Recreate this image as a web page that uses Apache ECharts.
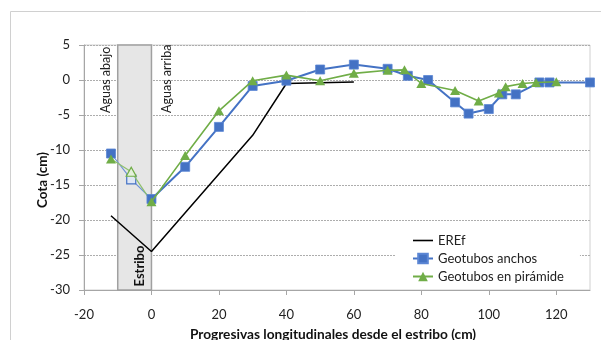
<!DOCTYPE html>
<html>
<head>
<meta charset="utf-8">
<script src="https://cdn.jsdelivr.net/npm/echarts@6/dist/echarts.min.js"></script>
<style>
  html, body { margin: 0; padding: 0; background: #fff; }
  #chart { width: 601px; height: 340px; }
</style>
</head>
<body>
<div id="chart"></div>
<script>
// Perfil longitudinal junto al estribo: cota (cm) frente a progresiva (cm)
const xTicks = [-20, 0, 20, 40, 60, 80, 100, 120];
const yTicks = [-30, -25, -20, -15, -10, -5, 0, 5];

// Perfil de referencia
const xERef = [-12, 0, 30, 40, 60];
const yERef = [-19.4, -24.5, -7.9, -0.5, -0.3];

// Geotubos anchos
const xAnchos = [-12, -6, 0, 10, 20, 30, 40, 50, 60, 70, 76, 82, 90, 94, 100, 104, 108, 115, 118, 130];
const yAnchos = [-10.5, -14.2, -17, -12.4, -6.7, -0.85, -0.1, 1.5, 2.2, 1.6, 0.6, 0, -3.2, -4.8, -4.15, -2.05, -2.05, -0.35, -0.35, -0.35];

// Geotubos en pirámide
const xPiramide = [-12, -6, 0, 10, 20, 30, 40, 50, 60, 70, 75, 80, 90, 97, 103, 105, 110, 114, 120];
const yPiramide = [-11.3, -13.1, -17.4, -10.8, -4.4, -0.1, 0.7, -0.1, 0.95, 1.4, 1.45, -0.5, -1.5, -3.0, -1.85, -0.95, -0.5, -0.35, -0.25];

// Zona del estribo (progresivas)
const estriboDesde = -10;
const estriboHasta = 0;

const FONT = 'Lato, "Open Sans", sans-serif';
const BLUE = '#4472C4';
const GREEN = '#70AD47';

const zip = (xs, ys) => xs.map((x, i) => [x, ys[i]]);

// Tramo aguas abajo (hasta el estribo) con trazo fino; el punto intermedio va hueco
function upstreamSplit(xs, ys) {
  const k = xs.indexOf(0);
  return { head: zip(xs.slice(0, k + 1), ys.slice(0, k + 1)), tail: zip(xs.slice(k), ys.slice(k)) };
}
const anchos = upstreamSplit(xAnchos, yAnchos);
const piramide = upstreamSplit(xPiramide, yPiramide);

function headData(points, hollowFill, color) {
  return points.map((p, i) => {
    if (i === points.length - 1) return { value: p, symbol: 'none' };
    if (i > 0) return { value: p, itemStyle: { color: hollowFill, borderColor: color, borderWidth: 1.2 } };
    return { value: p };
  });
}

const chart = echarts.init(document.getElementById('chart'), null, { renderer: 'canvas' });

const option = {
  animation: false,
  backgroundColor: '#fff',
  grid: { left: 84, right: 11, top: 45, bottom: 50, show: true, borderColor: '#d0d0d0', borderWidth: 1 },
  xAxis: {
    type: 'value', min: -20, max: 130, interval: 20,
    axisLine: { show: true, onZero: false, lineStyle: { color: '#a6a6a6', width: 1 } },
    axisTick: { show: true, length: 5, customValues: xTicks, lineStyle: { color: '#a6a6a6' } },
    axisLabel: { customValues: xTicks, margin: 18, fontFamily: FONT, fontSize: 13, color: '#222' },
    splitLine: { show: false }
  },
  yAxis: {
    type: 'value', min: -30, max: 5, interval: 5,
    axisLine: { show: true, onZero: false, lineStyle: { color: '#a6a6a6', width: 1 } },
    axisTick: { show: true, length: 5, customValues: yTicks, lineStyle: { color: '#a6a6a6' } },
    axisLabel: { customValues: yTicks, margin: 14, fontFamily: FONT, fontSize: 13, color: '#222' },
    splitLine: { show: true, lineStyle: { color: '#adadad', width: 1, type: [2, 1] } }
  },
  legend: {
    data: [
      { name: 'EREf', icon: 'path://M0,0H20V1.6H0Z', itemStyle: { color: '#000' } },
      'Geotubos anchos',
      'Geotubos en pirámide'
    ],
    orient: 'vertical', left: 395, top: 229,
    backgroundColor: '#fff',
    padding: [5, 16, 6, 17],
    itemWidth: 20, itemHeight: 12, itemGap: 5,
    textStyle: { fontFamily: FONT, fontSize: 13, color: '#222' }
  },
  series: [
    {
      name: 'EREf', type: 'line', data: zip(xERef, yERef),
      symbol: 'none', color: '#000',
      lineStyle: { color: '#000', width: 1.5 },
      z: 3,
      markArea: {
        silent: true,
        itemStyle: { color: '#e6e6e6', borderColor: '#a0a0a0', borderWidth: 1.5 },
        data: [[{ xAxis: estriboDesde, yAxis: -30 }, { xAxis: estriboHasta, yAxis: 5 }]]
      }
    },
    {
      type: 'line', data: headData(anchos.head, '#dfe7f6', BLUE),
      symbol: 'rect', symbolSize: 9, color: BLUE,
      itemStyle: { color: BLUE, borderColor: '#5b86d4', borderWidth: 0.8 },
      lineStyle: { color: '#6f93d6', width: 1.2 }, z: 4
    },
    {
      type: 'line', data: headData(piramide.head, '#e4f0db', GREEN),
      symbol: 'triangle', symbolSize: [10, 9], color: GREEN,
      itemStyle: { color: GREEN },
      lineStyle: { color: '#8fc06c', width: 1.2 }, z: 5
    },
    {
      name: 'Geotubos anchos', type: 'line', data: anchos.tail,
      symbol: 'rect', symbolSize: 9, color: BLUE,
      itemStyle: { color: BLUE, borderColor: '#5b86d4', borderWidth: 0.8 },
      lineStyle: { color: BLUE, width: 2 }, z: 6
    },
    {
      name: 'Geotubos en pirámide', type: 'line', data: piramide.tail,
      symbol: 'triangle', symbolSize: [10, 9], color: GREEN,
      itemStyle: { color: GREEN },
      lineStyle: { color: GREEN, width: 1.6 }, z: 7
    }
  ]
};
chart.setOption(option);

// Rótulos de la zona del estribo y títulos de ejes
const bottomY = chart.convertToPixel({ xAxisIndex: 0, yAxisIndex: 0 }, [0, -30])[1];
const pAbajo = chart.convertToPixel({ xAxisIndex: 0, yAxisIndex: 0 }, [-13.5, -4.7]);
const pArriba = chart.convertToPixel({ xAxisIndex: 0, yAxisIndex: 0 }, [4.5, -4.7]);
const pEstribo = chart.convertToPixel({ xAxisIndex: 0, yAxisIndex: 0 }, [-3.4, -29.5]);

chart.setOption({
  graphic: [
    { type: 'rect', silent: true, z: -10, shape: { x: 10.5, y: 11.5, width: 700, height: 400 },
      style: { fill: null, stroke: '#d0d0d0', lineWidth: 1 } },
    { type: 'text', x: pAbajo[0], y: pAbajo[1], rotation: Math.PI / 2, z: 20,
      style: { text: 'Aguas abajo', fontFamily: FONT, fontSize: 12.5, fill: '#222', align: 'left', verticalAlign: 'middle' } },
    { type: 'text', x: pArriba[0], y: pArriba[1], rotation: Math.PI / 2, z: 20,
      style: { text: 'Aguas arriba', fontFamily: FONT, fontSize: 12.5, fill: '#222', align: 'left', verticalAlign: 'middle' } },
    { type: 'text', x: pEstribo[0], y: pEstribo[1], rotation: Math.PI / 2, z: 20,
      style: { text: 'Estribo', fontFamily: FONT, fontSize: 13, fontWeight: 'bold', fill: '#111', align: 'left', verticalAlign: 'middle' } },
    { type: 'text', x: 43, y: 180, rotation: Math.PI / 2, z: 20,
      style: { text: 'Cota (cm)', fontFamily: FONT, fontSize: 13.5, fontWeight: 'bold', fill: '#111', align: 'center', verticalAlign: 'middle' } },
    { type: 'text', x: 333, y: bottomY + 45, z: 20,
      style: { text: 'Progresivas longitudinales desde el estribo (cm)', fontFamily: FONT, fontSize: 13.7, fontWeight: 'bold', fill: '#111', align: 'center', verticalAlign: 'middle' } }
  ]
});
</script>
</body>
</html>
